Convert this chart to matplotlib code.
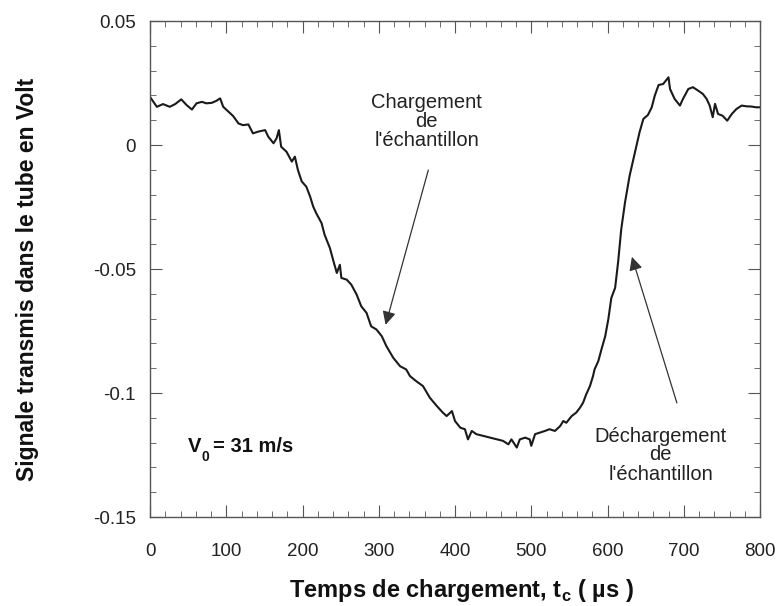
import matplotlib.pyplot as plt
from matplotlib.ticker import MultipleLocator

# Signal (time in us, signal in V)
t_us = [0, 9, 17, 26, 33, 41, 48, 55, 61, 68, 74, 81, 87, 92, 96, 103, 109, 116,
        122, 129, 135, 142, 151, 155, 162, 166, 169, 172, 179, 186, 190, 194, 199,
        205, 210, 214, 218, 225, 229, 236, 240, 245, 249, 251, 258, 264, 271, 277,
        284, 290, 297, 304, 310, 319, 328, 336, 341, 349, 358, 367, 376, 384, 389,
        396, 400, 407, 413, 417, 422, 428, 437, 446, 455, 463, 470, 474, 481, 485,
        492, 498, 500, 505, 511, 518, 524, 531, 538, 542, 546, 553, 559, 564, 568,
        572, 577, 581, 583, 588, 592, 597, 601, 605, 610, 614, 618, 623, 629, 634,
        638, 642, 647, 653, 658, 662, 667, 673, 680, 682, 688, 695, 699, 706, 712,
        719, 725, 730, 734, 738, 741, 745, 751, 757, 763, 769, 776, 782, 789, 795, 800]
signal = [0.0194, 0.0154, 0.0165, 0.0154, 0.0165, 0.0184, 0.0161, 0.0143, 0.0168,
          0.0174, 0.0168, 0.0170, 0.0178, 0.0188, 0.0154, 0.0134, 0.0117, 0.0087,
          0.0080, 0.0083, 0.0047, 0.0054, 0.0060, 0.0034, 0.0007, 0.0027, 0.0060,
          -0.0007, -0.0027, -0.0067, -0.0047, -0.0101, -0.0147, -0.0168, -0.0208,
          -0.0248, -0.0275, -0.0315, -0.0362, -0.0416, -0.0462, -0.0516, -0.0483,
          -0.0536, -0.0543, -0.0563, -0.0603, -0.0650, -0.0677, -0.0731, -0.0744,
          -0.0771, -0.0811, -0.0858, -0.0892, -0.0905, -0.0932, -0.0952, -0.0972,
          -0.1019, -0.1052, -0.1079, -0.1093, -0.1073, -0.1113, -0.1140, -0.1146,
          -0.1187, -0.1153, -0.1166, -0.1173, -0.1180, -0.1187, -0.1193, -0.1207,
          -0.1187, -0.1220, -0.1187, -0.1180, -0.1187, -0.1213, -0.1166, -0.1160,
          -0.1153, -0.1146, -0.1153, -0.1133, -0.1113, -0.1120, -0.1093, -0.1079,
          -0.1059, -0.1039, -0.1006, -0.0972, -0.0932, -0.0905, -0.0871, -0.0825,
          -0.0771, -0.0704, -0.0617, -0.0576, -0.0470, -0.0340, -0.0231, -0.0124,
          -0.0057, -0.0003, 0.0051, 0.0105, 0.0121, 0.0152, 0.0199, 0.0242, 0.0246,
          0.0273, 0.0226, 0.0186, 0.0159, 0.0186, 0.0226, 0.0233, 0.0219, 0.0206,
          0.0186, 0.0159, 0.0112, 0.0166, 0.0125, 0.0118, 0.0098, 0.0125, 0.0145,
          0.0159, 0.0156, 0.0155, 0.0152, 0.0152]

x_ticks = [0, 100, 200, 300, 400, 500, 600, 700, 800]
y_ticks = [-0.15, -0.1, -0.05, 0, 0.05]
y_labels = ['-0.15', '-0.1', '-0.05', '0', '0.05']

plt.rcParams['font.family'] = ['Liberation Sans', 'DejaVu Sans']

fig = plt.figure(figsize=(7.78, 6.06), dpi=100)
# axes box: x 150..760 px, y 21..517 px
ax = fig.add_axes([150 / 778, 1 - 517 / 606, 610 / 778, 496 / 606])

ax.plot(t_us, signal, color='#1a1a1a', lw=1.5)

ax.set_xlim(0, 800)
ax.set_ylim(-0.15, 0.05)
ax.set_xticks(x_ticks)
ax.set_xticklabels([str(v) for v in x_ticks])
ax.set_yticks(y_ticks)
ax.set_yticklabels(y_labels)
ax.xaxis.set_minor_locator(MultipleLocator(20))
ax.yaxis.set_minor_locator(MultipleLocator(0.01))
ax.tick_params(which='both', direction='in', top=True, right=True,
               color='#555555', labelsize=13.5, labelcolor='#222222')
ax.tick_params(axis='x', which='major', length=8.5, pad=19)
ax.tick_params(axis='y', which='major', length=8.5, pad=10)
ax.tick_params(which='minor', length=4.5)
for s in ax.spines.values():
    s.set_color('#555555')
    s.set_linewidth(1.0)

ax.set_xlabel(r'Temps de chargement, t$_{\mathregular{c}}$ ( µs )', fontsize=17,
              fontweight='bold', color='#111111')
ax.xaxis.set_label_coords(0.51, -0.12)
ax.set_ylabel('Signale transmis dans le tube en Volt', fontsize=16.5,
              fontweight='bold', color='#111111')
ax.yaxis.set_label_coords(-0.182, 0.48)

ax.annotate('', xy=(309, -0.0725), xytext=(365, -0.0101),
            arrowprops=dict(arrowstyle='-|>', color='#333333', lw=0.9,
                            mutation_scale=20, shrinkA=0, shrinkB=0))
ax.text(363, 0.0093, "Chargement\nde\nl'échantillon", ha='center', va='center',
        fontsize=14.5, linespacing=1.0, color='#222222')

ax.annotate('', xy=(632, -0.0451), xytext=(691, -0.104),
            arrowprops=dict(arrowstyle='-|>', color='#333333', lw=0.9,
                            mutation_scale=20, shrinkA=0, shrinkB=0))
ax.text(670, -0.1250, "Déchargement\nde\nl'échantillon", ha='center', va='center',
        fontsize=14.5, linespacing=1.0, color='#222222')

# V0 label, subscript dropped low as in the original
ax.text(50, -0.1217, 'V', fontsize=14.5, fontweight='bold',
        ha='left', va='center', color='#111111')
ax.text(68, -0.1258, '0', fontsize=10, fontweight='bold',
        ha='left', va='center', color='#111111')
ax.text(83, -0.1217, '= 31 m/s', fontsize=14.5, fontweight='bold',
        ha='left', va='center', color='#111111')

fig.savefig('out.png', dpi=100)
